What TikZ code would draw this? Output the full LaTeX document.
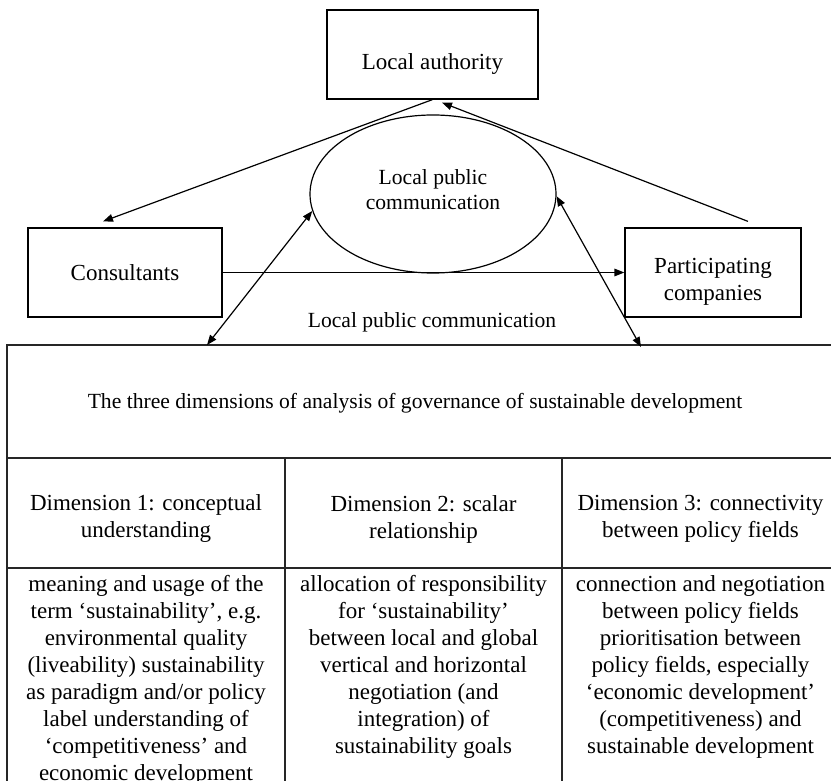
\documentclass[tikz,border=0pt]{standalone}
\usepackage{fontspec}
\setmainfont{Liberation Serif}
\usetikzlibrary{shapes.geometric, arrows.meta, calc}

\begin{document}
\begin{tikzpicture}[x=0.5pt, y=-0.5pt,
    box/.style={rectangle, draw, line width=0.6pt, minimum height=44.5pt,
                align=center, font=\fontsize{11.5}{13.5}\selectfont},
    bubble/.style={ellipse, draw, line width=0.6pt, minimum width=123pt, minimum height=79pt,
                align=center, text depth=4pt, font=\fontsize{10.8}{12.5}\selectfont},
    arrow/.style={-{Triangle[length=5pt, width=3.8pt]}, line width=0.6pt},
    dblarrow/.style={{Triangle[length=5pt, width=3.8pt]}-{Triangle[length=5pt, width=3.8pt]}, line width=0.6pt},
    grid/.style={draw=black!85, line width=0.6pt},
    cell/.style={align=center, inner sep=0pt, font=\fontsize{11.5}{13.5}\selectfont}
]
\useasboundingbox (0,0) rectangle (831,781);
\clip (0,0) rectangle (831,781);

\node[box, minimum width=105.5pt, text height=17.8pt] (authority) at (432.5,54.5) {Local authority};
\node[bubble] (comm) at (433,194) {Local public\\communication};
\node[box, minimum width=97pt] (consultants) at (125,272.5) {Consultants};
\node[box, minimum width=88pt, text height=30pt] (companies) at (713,272.5) {Participating\\companies};
\node[font=\fontsize{10.8}{12.5}\selectfont] (label) at (432,322) {Local public communication};

\draw[grid] (7,345) rectangle (840,800);
\draw[grid] (7,458) -- (840,458);
\draw[grid] (7,568) -- (840,568);
\draw[grid] (285,458) -- (285,800);
\draw[grid] (562,458) -- (562,800);

\node[cell, font=\fontsize{10.8}{12.5}\selectfont] (head) at (415,403)
    {The three dimensions of analysis of governance of sustainable development};
\node[cell] (dim1) at (146,519) {Dimension 1: conceptual\\understanding};
\node[cell] (dim2) at (423.5,519) {Dimension 2: scalar\\relationship};
\node[cell] (dim3) at (700.5,519) {Dimension 3: connectivity\\between policy fields};
\node[cell, anchor=north] (txt1) at (146,575) {meaning and usage of the\\term `sustainability', e.g.\\environmental quality\\(liveability) sustainability\\as paradigm and/or policy\\label understanding of\\`competitiveness' and\\economic development};
\node[cell, anchor=north] (txt2) at (423.5,575) {allocation of responsibility\\for `sustainability'\\between local and global\\vertical and horizontal\\negotiation (and\\integration) of\\sustainability goals};
\node[cell, anchor=north] (txt3) at (700.5,575) {connection and negotiation\\between policy fields\\prioritisation between\\policy fields, especially\\`economic development'\\(competitiveness) and\\sustainable development};

\coordinate (in1) at (207,345);
\coordinate (in2) at (641,347);

\draw[arrow] (authority.south) -- ($(consultants.north)+(-22,-6)$);
\draw[arrow] ($(companies.north)+(35,-6)$) -- ($(authority.south)+(9.5,3)$);
\draw[arrow] (consultants) -- (companies);
\draw[dblarrow] (in1) -- (comm.188);
\draw[dblarrow] (comm.-1) -- (in2);
\end{tikzpicture}
\end{document}
